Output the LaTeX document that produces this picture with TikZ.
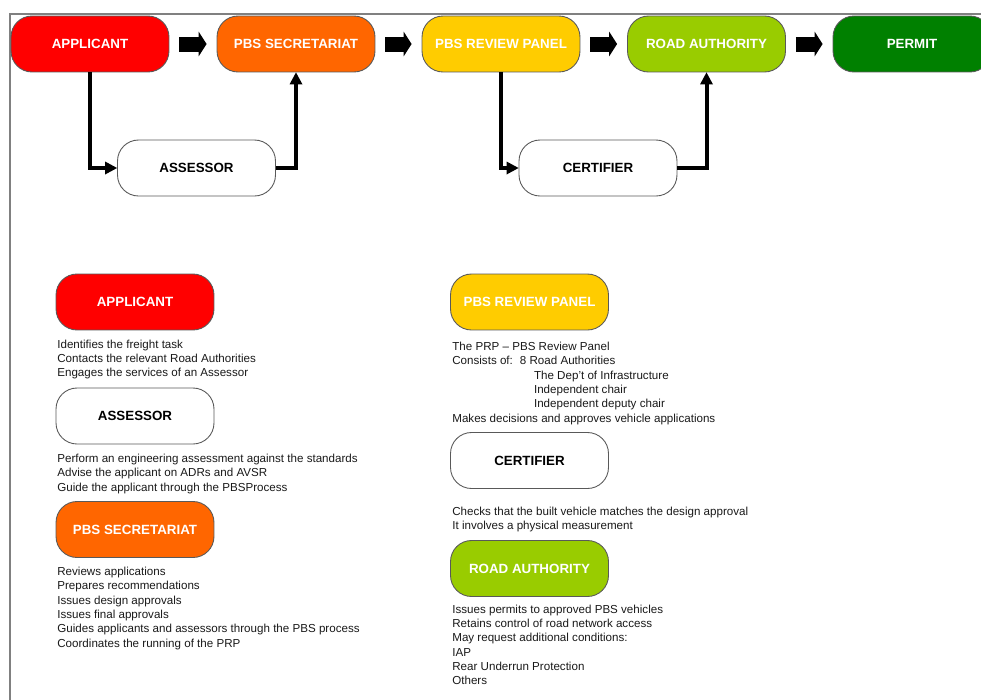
\documentclass[tikz,border=0pt]{standalone}
\usepackage{fontspec}
\setmainfont{Liberation Sans}
\usetikzlibrary{arrows.meta}
\definecolor{appred}{RGB}{255,0,0}
\definecolor{secorange}{RGB}{255,102,0}
\definecolor{prpyellow}{RGB}{255,204,0}
\definecolor{ragreen}{RGB}{153,204,0}
\definecolor{permitgreen}{RGB}{0,128,0}

\begin{document}
\begin{tikzpicture}[x=0.02cm,y=-0.02cm]
	\tikzstyle{stage} = [rectangle,rounded corners=0.42cm,draw=black!65,line width=0.5pt,minimum width=3.16cm,minimum height=1.12cm,font=\fontsize{7.6}{9}\selectfont\bfseries,text=white]
	\tikzstyle{stage2} = [stage,fill=white,text=black]
	\tikzstyle{bigarrow} = [line width=0.3cm,-{Triangle[length=0.16cm,width=0.5cm,line width=0pt]},shorten <=0.2cm,shorten >=0.2cm]
	\tikzstyle{edge} = [line width=0.08cm,-{Triangle[length=0.24cm,width=0.26cm,line width=0pt]}]
	\tikzstyle{notes} = [anchor=north west,inner sep=0pt,align=left,text=black!90,font=\fontsize{6.6}{8.17}\selectfont]
	\clip (0,0) rectangle (981,700);
	\draw[black!50,line width=0.6pt] (981,14) -- (10,14) -- (10,700);

	\node[stage,fill=appred] (app) at (90,44) {APPLICANT};
	\node[stage,fill=secorange] (sec) at (296,44) {PBS SECRETARIAT};
	\node[stage,fill=prpyellow] (prp) at (501,44) {PBS REVIEW PANEL};
	\node[stage,fill=ragreen] (ra) at (706.5,44) {ROAD AUTHORITY};
	\node[stage,fill=permitgreen] (permit) at (912,44) {PERMIT};
	\node[stage2] (ass) at (196.5,168) {ASSESSOR};
	\node[stage2] (cert) at (598,168) {CERTIFIER};

	\draw[bigarrow] (app) -- (sec);
	\draw[bigarrow] (sec) -- (prp);
	\draw[bigarrow] (prp) -- (ra);
	\draw[bigarrow] (ra) -- (permit);
	\draw[edge] (app.south) |- (ass.west);
	\draw[edge] (ass.east) -| (sec.south);
	\draw[edge] (prp.south) |- (cert.west);
	\draw[edge] (cert.east) -| (ra.south);

	\node[stage,fill=appred] (app2) at (135,302) {APPLICANT};
	\node[notes] (apptxt) at (57,339.4) {Identifies the freight task\\Contacts the relevant Road Authorities\\Engages the services of an Assessor};
	\node[stage2] (ass2) at (135,416) {ASSESSOR};
	\node[notes] (asstxt) at (57,453.7) {Perform an engineering assessment against the standards\\Advise the applicant on ADRs and AVSR\\Guide the applicant through the PBSProcess};
	\node[stage,fill=secorange] (sec2) at (135,529.5) {PBS SECRETARIAT};
	\node[notes] (sectxt) at (57,566.7) {Reviews applications\\Prepares recommendations\\Issues design approvals\\Issues final approvals\\Guides applicants and assessors through the PBS process\\Coordinates the running of the PRP};

	\node[stage,fill=prpyellow] (prp2) at (529.5,302) {PBS REVIEW PANEL};
	\node[notes] (prptxt) at (452,341.7) {The PRP -- PBS Review Panel\\Consists of:\hspace{4pt}8 Road Authorities\\\hspace*{46.5pt}The Dep't of Infrastructure\\\hspace*{46.5pt}Independent chair\\\hspace*{46.5pt}Independent deputy chair\\Makes decisions and approves vehicle applications};
	\node[stage2] (cert2) at (529.5,460.5) {CERTIFIER};
	\node[notes] (certtxt) at (452,506.7) {Checks that the built vehicle matches the design approval\\It involves a physical measurement};
	\node[stage,fill=ragreen] (ra2) at (529.5,568.5) {ROAD AUTHORITY};
	\node[notes] (ratxt) at (452,604.4) {Issues permits to approved PBS vehicles\\Retains control of road network access\\May request additional conditions:\\IAP\\Rear Underrun Protection\\Others};
\end{tikzpicture}
\end{document}
